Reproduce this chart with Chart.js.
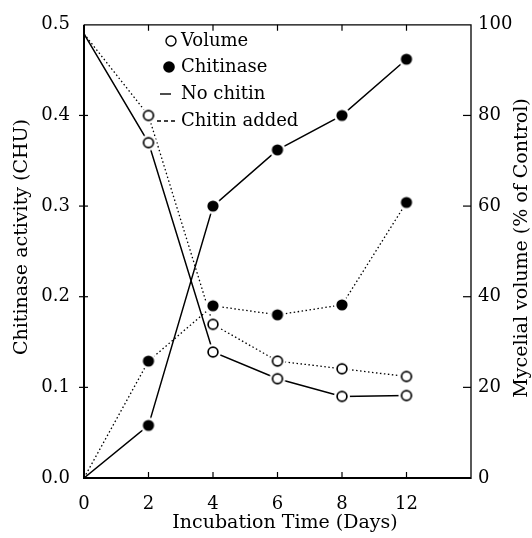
<!DOCTYPE html>
<html><head><meta charset="utf-8">
<script src="https://cdn.jsdelivr.net/npm/chart.js@4/dist/chart.umd.min.js"></script>
<style>html,body{margin:0;padding:0;background:#fff;} canvas{display:block;}</style>
</head><body>
<canvas id="c" width="532" height="538"></canvas>
<script>
// ---- data ----
const days = ['0', '2', '4', '6', '8', '12'];
const chitinaseNoChitin = [0, 0.058, 0.300, 0.362, 0.400, 0.462];
const chitinaseChitinAdded = [0, 0.129, 0.190, 0.180, 0.191, 0.304];
const volumeNoChitin = [98, 74, 27.8, 21.9, 18.0, 18.2];
const volumeChitinAdded = [98, 80, 33.9, 25.8, 24.1, 22.4];
const leftTicks = [0, 0.1, 0.2, 0.3, 0.4, 0.5];
const rightTicks = [0, 20, 40, 60, 80, 100];
const legendLabels = ['Volume', 'Chitinase', 'No chitin', 'Chitin added'];
const xTitle = 'Incubation Time (Days)';
const yLeftTitle = 'Chitinase activity (CHU)';
const yRightTitle = 'Mycelial volume (% of Control)';

const FONT = '"DejaVu Serif", serif';
const INK = '#000';

function marker(filled) {
  const c = document.createElement('canvas');
  c.width = 18; c.height = 18;
  const g = c.getContext('2d');
  g.fillStyle = '#fff';
  g.beginPath(); g.arc(9, 9, 8, 0, Math.PI * 2); g.fill();
  g.beginPath(); g.arc(9, 9, filled ? 5.6 : 4.9, 0, Math.PI * 2);
  if (filled) { g.fillStyle = INK; g.fill(); }
  else { g.lineWidth = 1.7; g.strokeStyle = INK; g.stroke(); }
  return c;
}
const filledImg = marker(true);
const openImg = marker(false);
const skipFirst = ctx => ctx.dataIndex === 0 ? 0 : 5;

const frameAndTicks = {
  id: 'frameAndTicks',
  beforeDatasetsDraw(chart) {
    const { ctx, chartArea: a } = chart;
    const xs = chart.scales.x, yl = chart.scales.y, yr = chart.scales.y2;
    ctx.save();
    ctx.strokeStyle = INK;
    ctx.lineCap = 'butt';
    ctx.lineWidth = 2;
    ctx.beginPath();
    ctx.moveTo(a.left, a.top); ctx.lineTo(a.left, a.bottom); ctx.lineTo(a.right, a.bottom);
    ctx.stroke();
    ctx.lineWidth = 1.3;
    ctx.beginPath();
    ctx.moveTo(a.left, a.top); ctx.lineTo(a.right, a.top); ctx.lineTo(a.right, a.bottom + 1);
    ctx.stroke();
    ctx.lineWidth = 1.2;
    days.forEach((d, i) => {
      if (i === 0) return;
      const px = xs.getPixelForValue(i);
      ctx.beginPath();
      ctx.moveTo(px, a.bottom); ctx.lineTo(px, a.bottom - 6);
      ctx.moveTo(px, a.top); ctx.lineTo(px, a.top + 6);
      ctx.stroke();
    });
    leftTicks.forEach((v, i) => {
      if (i === 0 || i === leftTicks.length - 1) return;
      const py = yl.getPixelForValue(v);
      ctx.beginPath(); ctx.moveTo(a.left - 5, py); ctx.lineTo(a.left + 4, py); ctx.stroke();
    });
    rightTicks.forEach((v, i) => {
      if (i === 0 || i === rightTicks.length - 1) return;
      const py = yr.getPixelForValue(v);
      ctx.beginPath(); ctx.moveTo(a.right - 8, py); ctx.lineTo(a.right, py); ctx.stroke();
    });
    ctx.restore();
  },
  afterDraw(chart) {
    const { ctx } = chart;
    ctx.save();
    ctx.fillStyle = INK;
    ctx.strokeStyle = INK;
    ctx.font = '19px ' + FONT;
    ctx.textAlign = 'center';
    ctx.textBaseline = 'alphabetic';
    ctx.fillText(xTitle, 285, 528);
    ctx.save(); ctx.translate(27, 237); ctx.rotate(-Math.PI / 2); ctx.fillText(yLeftTitle, 0, 0); ctx.restore();
    ctx.save(); ctx.translate(527, 248); ctx.rotate(-Math.PI / 2); ctx.fillText(yRightTitle, 0, 0); ctx.restore();
    ctx.font = '18px ' + FONT;
    ctx.textAlign = 'left';
    ctx.textBaseline = 'middle';
    const rows = [41, 67, 94, 121];
    legendLabels.forEach((t, i) => ctx.fillText(t, 181, rows[i]));
    ctx.lineWidth = 1.4;
    ctx.beginPath(); ctx.arc(171, rows[0], 5, 0, Math.PI * 2); ctx.stroke();
    ctx.beginPath(); ctx.arc(169, rows[1], 5.8, 0, Math.PI * 2); ctx.fill();
    ctx.beginPath(); ctx.moveTo(160, rows[2]); ctx.lineTo(171, rows[2]); ctx.stroke();
    ctx.setLineDash([4, 3]);
    ctx.beginPath(); ctx.moveTo(157, rows[3]); ctx.lineTo(178, rows[3]); ctx.stroke();
    ctx.restore();
  }
};

const tickFont = { family: FONT, size: 18 };

new Chart(document.getElementById('c'), {
  type: 'line',
  data: {
    labels: [...days, ''],
    datasets: [
      { label: 'Chitinase, no chitin', data: chitinaseNoChitin, yAxisID: 'y',
        borderColor: INK, borderWidth: 1.5, pointStyle: filledImg, pointRadius: skipFirst, tension: 0 },
      { label: 'Chitinase, chitin added', data: chitinaseChitinAdded, yAxisID: 'y',
        borderColor: INK, borderWidth: 1.3, borderDash: [1.5, 2.5], pointStyle: filledImg, pointRadius: skipFirst, tension: 0 },
      { label: 'Volume, no chitin', data: volumeNoChitin, yAxisID: 'y2',
        borderColor: INK, borderWidth: 1.5, pointStyle: openImg, pointRadius: skipFirst, tension: 0 },
      { label: 'Volume, chitin added', data: volumeChitinAdded, yAxisID: 'y2',
        borderColor: INK, borderWidth: 1.3, borderDash: [1.5, 2.5], pointStyle: openImg, pointRadius: skipFirst, tension: 0 }
    ]
  },
  options: {
    responsive: false,
    animation: false,
    devicePixelRatio: 1,
    layout: { padding: { top: 17, left: 0, right: 0, bottom: 0 } },
    plugins: { legend: { display: false }, tooltip: { enabled: false } },
    scales: {
      x: {
        type: 'category', offset: false,
        grid: { display: false, drawTicks: false }, border: { display: false },
        ticks: { font: tickFont, color: INK, padding: 16, autoSkip: false, maxRotation: 0 },
        afterFit(s) { s.height = 60; }
      },
      y: {
        position: 'left', min: 0, max: 0.5,
        grid: { display: false, drawTicks: false }, border: { display: false },
        afterBuildTicks(s) { s.ticks = leftTicks.map(v => ({ value: v })); },
        ticks: { font: tickFont, color: INK, padding: 14, callback: v => Number(v).toFixed(1) },
        afterFit(s) { s.width = 84; }
      },
      y2: {
        position: 'right', min: 0, max: 100,
        grid: { display: false, drawTicks: false }, border: { display: false },
        afterBuildTicks(s) { s.ticks = rightTicks.map(v => ({ value: v })); },
        ticks: { font: tickFont, color: INK, padding: 7, callback: v => String(v) },
        afterFit(s) { s.width = 61; }
      }
    }
  },
  plugins: [frameAndTicks]
});
</script>
</body></html>
